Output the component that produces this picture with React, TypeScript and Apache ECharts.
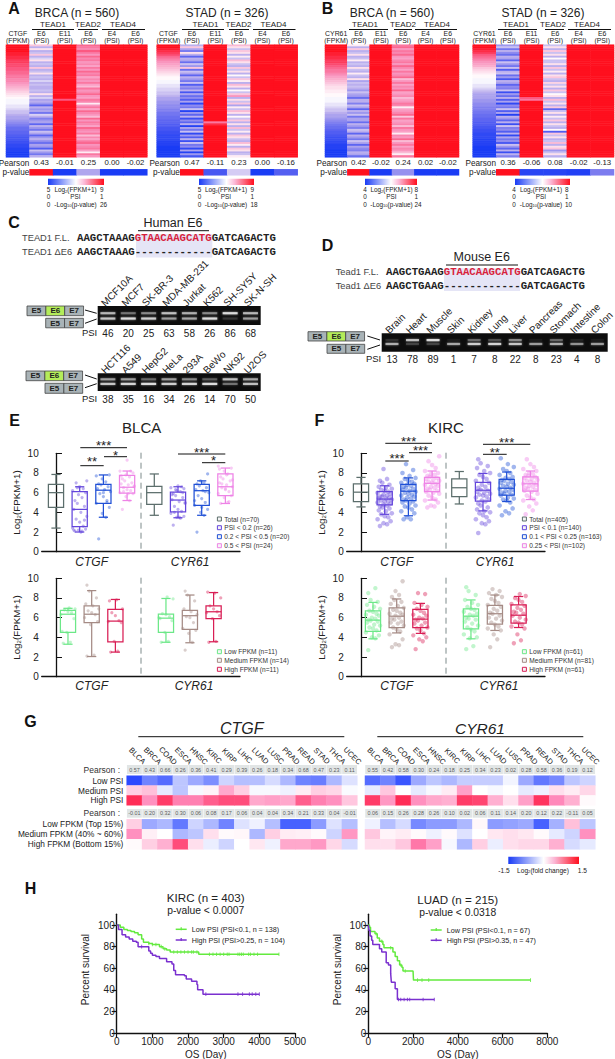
import React, { useEffect, useRef } from "react";
import * as echarts from "echarts";

const FONT = "Liberation Sans";
const MONO = "Liberation Mono";

/* ---------- Panels A / B : heat maps (one base-36 character per row, 0 = low, z = high) ---------- */
const joinRows = (s: string) => s.replace(/ /g, "");
const solidRed = joinRows("zzzzzzzzzz zzzzzzzzzz zzzzzzzzzz zzzzzzzzzz zzzzzzzzzz zzzzzzzzzz");
const a1Gene = joinRows("zzzzyyxxww vvuuttssrr qponmlkjih hhggfeedcc ba98776654 4332211000");
const a1Tead1E6 = joinRows("mdkdemdfkd edmdekdedf deddedkdfc db6dbc8fd9 bc6db8ec6b da7cb5eb8d");
const a1Tead1E11 = joinRows("zzzzzzzzzz zzzzzzzzzz zzzzzzzzzu zzzzzzzzzz zzzzzzzzzz zzzzzzzzzz");
const a1Tead2E6 = joinRows("tsrusqtrsq rpsqtrsprq spnsqrtqps rjqsptrqnt qsrptrqsnr pstqrspjsq");
const a2Gene = joinRows("zzyxwvtsrq ponmlkjiih hggffeedcc bbaa998877 6655443322 2111000000");
const a2Tead1E6 = joinRows("dmc8kd6dc7 ebm7ec6db8 e5b9d4c7a5 c2a8e1b6d3 a6d1c8e2b5 d3e8a2c1b4");
const a2Tead1E11 = joinRows("zzzzzzzzzz zzzzzzzzzz zzzzzzzzzz zzzzzzzzzz zsxzzzzzzz zzzzzzzzzz");
const a2Tead2E6 = joinRows("nkemkdjenk edmekdiemj dnkdiemqdk emcjenkdie mdkdnejdmk ednjdmkdej");
const b1Gene = joinRows("zzzzyyxxww vutssrqpon mlkkjjiihh hggfeedccb a987765543 3221110000");
const b1Tead1E6 = joinRows("jdmdekdejd edkedjedkc ededbecb7d d9ec6dbe8c c7db9ed6db 8ec6ca9dc7");
const b1Tead2E6 = joinRows("stqsrtqprs qtrpsqrtnq sprqtpqrnp qsrjpqrtms pqrnsqpjrq tnqsprqnjs");
const b2Gene = joinRows("zzyxwutsrq pomlkjiihh hggfedcccb baa9988776 6554433222 1111000000");
const b2Tead1E6 = joinRows("be8da7dc6e b8e5de7b4d c6a9e3b7d5 c2a8e5c1db 6d3e9a5d2c 8a4eb6d3d9");
const b2Tead1E11 = joinRows("zzzzzzzzzz zzzzzzzzzz zzzzzzzzus zzzzzzzzzz zzzzzzzzzz zzzzzzzzzz");
const b2Tead2E6 = joinRows("ekdmekdiee kdmejdkmed lekdmeikdn ekdm6ekdje mdkedi5mek dendkmbekd");

const a1Pearson = ["0.43", "-0.01", "0.25", "0.00", "-0.02"];
const a2Pearson = ["0.47", "-0.11", "0.23", "0.00", "-0.16"];
const b1Pearson = ["0.42", "-0.02", "0.24", "0.02", "-0.02"];
const b2Pearson = ["0.36", "-0.06", "0.08", "-0.02", "-0.13"];
const a1PValue = [1, 0, 0.35, 0, 0];
const a2PValue = [1, 0.12, 0.42, 0, 0.15];
const b1PValue = [1, 0, 0.3, 0, 0];
const b2PValue = [1, 0.04, 0.04, 0.02, 0.25];

/* ---------- Panels C / D : gels ---------- */
const gel1Lanes = ["MCF10A", "MCF7", "SK-BR-3", "MDA-MB-231", "Jurkat", "K562", "SH-SY5Y", "SK-N-SH"];
const gel1Psi = [46, 20, 25, 63, 58, 26, 86, 68];
const gel1Upper = [0.75, 0.4, 0.5, 0.8, 0.7, 0.5, 1, 0.75];
const gel1Lower = [0.85, 1, 0.9, 0.6, 0.65, 1, 0.15, 0.6];
const gel2Lanes = ["HCT116", "A549", "HepG2", "HeLa", "293A", "BeWo", "NK92", "U2OS"];
const gel2Psi = [38, 35, 16, 34, 26, 14, 70, 50];
const gel2Upper = [0.6, 0.6, 0.35, 0.6, 0.5, 0.3, 0.8, 0.65];
const gel2Lower = [0.85, 0.95, 1, 0.9, 0.95, 1, 0.4, 0.8];
const gel3Lanes = ["Brain", "Heart", "Muscle", "Skin", "Kidney", "Lung", "Liver", "Pancreas", "Stomach", "Intestine", "Colon"];
const gel3Psi = [13, 78, 89, 1, 7, 8, 22, 8, 23, 4, 8];
const gel3Upper = [0.12, 0.8, 1, 0.05, 0.35, 0.25, 0.5, 0.05, 0.35, 0.08, 0.05];
const gel3Lower = [0.7, 0.2, 0.2, 0.65, 0.9, 0.95, 0.85, 0.6, 0.7, 0.55, 0.6];

/* ---------- Panels E / F : box plots, [min, q1, median, q3, max] ---------- */
const eTopBoxes = [
  [2.4, 4.5, 6.0, 6.85, 7.85], [2.0, 2.55, 4.3, 6.1, 6.6], [3.5, 4.9, 6.25, 6.85, 7.8], [5.2, 5.95, 6.55, 7.75, 8.2],
  [3.7, 4.8, 6.0, 6.65, 7.9], [3.45, 4.05, 5.25, 6.05, 6.6], [3.7, 4.7, 6.2, 6.85, 7.2], [4.9, 5.7, 6.6, 7.9, 8.5],
];
const fTopBoxes = [
  [4.55, 5.1, 6.05, 6.9, 7.55], [3.8, 4.75, 5.35, 6.1, 6.7], [3.65, 5.2, 6.15, 6.85, 7.5], [5.25, 6.1, 6.95, 7.55, 8.2],
  [4.85, 5.6, 6.5, 7.4, 8.15], [4.15, 5.15, 6.25, 7.05, 7.95], [5.1, 5.75, 6.45, 7.35, 8.1], [5.3, 6.15, 6.9, 7.6, 8.2],
];
const eLowBoxes = [
  [3.3, 4.5, 6.35, 6.75, 6.95], [2.05, 5.5, 6.35, 7.2, 8.75], [2.5, 3.55, 5.65, 6.85, 7.85],
  [3.5, 4.5, 5.95, 6.35, 7.95], [3.45, 4.8, 6.2, 6.75, 8.3], [3.55, 5.9, 6.6, 7.2, 8.55],
];
const fLowBoxes = [
  [3.85, 4.6, 5.75, 6.7, 7.55], [4.45, 5.0, 6.15, 7.0, 7.9], [4.4, 5.0, 5.85, 6.85, 7.45],
  [3.85, 4.85, 6.15, 6.9, 7.8], [4.7, 5.35, 6.4, 7.25, 8.3], [5.0, 5.45, 6.25, 7.3, 8.15],
];
const eTopDots = [
  [2.1, 2.1, 2.2, 2.3, 2.4, 2.6, 3.0, 3.3, 3.6, 4.0, 4.3, 4.6, 4.9, 5.2, 5.5, 5.8, 6.0, 6.2, 6.4, 6.6, 7.0, 7.2, 2.0, 2.2, 3.2, 6.5],
  [1.3, 3.5, 3.9, 4.5, 4.9, 5.2, 5.6, 5.9, 6.1, 6.3, 6.4, 6.6, 6.8, 6.9, 7.1, 7.4, 7.8, 7.7, 5.0, 6.0],
  [4.3, 5.2, 5.6, 5.9, 6.0, 6.2, 6.3, 6.5, 6.6, 6.8, 6.9, 7.0, 7.2, 7.4, 7.6, 7.8, 8.0, 8.2, 8.2, 9.3, 6.1, 6.7, 5.9, 7.7],
  [2.7, 3.4, 3.5, 3.6, 3.9, 4.1, 4.3, 4.6, 4.9, 5.1, 5.3, 5.5, 5.7, 5.9, 6.1, 6.2, 6.4, 6.5, 6.6, 6.7, 4.0, 5.0, 3.5, 5.8, 6.0, 6.3],
  [2.0, 3.7, 4.0, 4.3, 4.7, 5.0, 5.4, 5.7, 6.0, 6.2, 6.3, 6.5, 6.7, 6.9, 7.0, 7.2, 7.9, 5.2, 6.1, 4.5],
  [4.9, 5.0, 5.5, 5.7, 5.9, 6.1, 6.3, 6.5, 6.6, 6.8, 7.0, 7.2, 7.4, 7.6, 7.9, 8.2, 8.5, 8.7, 5.1, 6.4, 6.9, 7.3, 7.8, 8.4],
];
const fTopDots = [
  [2.6, 2.8, 2.9, 3.1, 3.3, 3.5, 3.6, 3.8, 3.9, 4.1, 4.2, 4.4, 4.5, 4.6, 4.7, 4.8, 4.9, 5.0, 5.1, 5.1, 5.2, 5.3, 5.4, 5.4, 5.5, 5.6, 5.6, 5.7, 5.8, 5.9, 6.0, 6.1, 6.2, 6.3, 6.4, 6.5, 6.6, 6.8, 7.0, 7.2, 7.4, 8.4],
  [3.3, 3.3, 3.5, 3.9, 4.1, 4.3, 4.5, 4.6, 4.7, 4.9, 5.0, 5.1, 5.2, 5.3, 5.4, 5.5, 5.6, 5.7, 5.8, 5.9, 6.0, 6.1, 6.2, 6.3, 6.4, 6.5, 6.6, 6.7, 6.8, 6.9, 7.0, 7.1, 7.2, 7.4, 7.5, 7.7, 8.0, 8.3, 8.9],
  [4.5, 4.6, 4.7, 5.0, 5.2, 5.3, 5.5, 5.7, 5.9, 6.0, 6.1, 6.2, 6.3, 6.4, 6.5, 6.6, 6.7, 6.8, 6.9, 7.0, 7.1, 7.2, 7.3, 7.4, 7.5, 7.6, 7.7, 7.8, 7.9, 8.0, 8.2, 8.5, 8.8, 9.2, 9.7],
  [1.9, 2.8, 2.9, 3.1, 3.3, 3.5, 3.7, 3.9, 4.0, 4.1, 4.3, 4.5, 4.7, 4.9, 5.1, 5.2, 5.3, 5.5, 5.6, 5.7, 5.8, 5.9, 6.0, 6.1, 6.2, 6.3, 6.5, 6.6, 6.8, 7.0, 7.2, 7.4, 7.6, 7.8, 8.0, 8.2, 8.5, 8.7, 9.0, 9.4],
  [3.7, 3.9, 4.1, 4.4, 4.7, 5.0, 5.2, 5.3, 5.4, 5.5, 5.7, 5.8, 5.9, 6.0, 6.1, 6.2, 6.3, 6.4, 6.5, 6.6, 6.7, 6.8, 6.9, 7.0, 7.1, 7.2, 7.3, 7.4, 7.5, 7.6, 7.8, 8.0, 8.2, 8.4, 8.6, 8.9, 9.5],
  [3.8, 4.2, 4.6, 4.9, 5.2, 5.3, 5.5, 5.7, 5.9, 6.1, 6.2, 6.3, 6.4, 6.5, 6.6, 6.7, 6.8, 6.9, 7.0, 7.1, 7.2, 7.3, 7.4, 7.5, 7.6, 7.7, 7.8, 7.9, 8.0, 8.2, 8.4, 8.6, 8.9, 9.4],
];
const eLowDots = [
  [3.4, 3.5, 4.5, 5.9, 6.3, 6.5, 6.6, 6.8, 6.9, 7.0, 4.6],
  [2.1, 2.2, 5.3, 5.6, 6.0, 6.3, 6.5, 6.7, 6.9, 7.2, 7.4, 8.0, 8.7, 9.3],
  [2.5, 2.6, 3.6, 5.5, 5.6, 5.7, 6.2, 6.5, 6.9, 7.8, 7.7],
  [3.5, 3.6, 4.5, 5.7, 6.0, 6.1, 6.3, 6.4, 7.9, 8.1, 5.9],
  [2.7, 3.5, 4.4, 4.7, 4.9, 5.5, 6.0, 6.1, 6.3, 6.6, 6.9, 7.7, 8.3, 8.7],
  [3.5, 3.6, 5.9, 6.2, 6.5, 6.6, 6.9, 7.2, 8.0, 8.5, 8.6],
];
const fLowDots = [
  [2.7, 3.9, 4.0, 4.2, 4.5, 4.7, 4.9, 5.0, 5.2, 5.3, 5.5, 5.6, 5.7, 5.8, 5.9, 6.0, 6.2, 6.3, 6.4, 6.6, 6.7, 6.9, 7.1, 7.3, 7.6, 7.8, 8.5, 9.0],
  [3.0, 3.2, 3.3, 3.8, 4.3, 4.6, 4.8, 5.0, 5.2, 5.4, 5.5, 5.6, 5.8, 5.9, 6.0, 6.2, 6.3, 6.4, 6.5, 6.7, 6.8, 7.0, 7.2, 7.4, 7.6, 7.8, 8.1, 8.3, 8.7, 9.7],
  [2.8, 3.6, 3.8, 4.0, 4.2, 4.4, 4.7, 4.9, 5.0, 5.2, 5.4, 5.5, 5.7, 5.8, 5.9, 6.0, 6.2, 6.3, 6.5, 6.7, 6.9, 7.1, 7.3, 7.5, 8.4, 8.5],
  [2.8, 3.1, 3.9, 4.0, 4.3, 4.6, 4.8, 5.0, 5.2, 5.4, 5.6, 5.8, 5.9, 6.0, 6.2, 6.3, 6.4, 6.6, 6.8, 6.9, 7.1, 7.3, 7.5, 7.8, 8.3, 8.7, 9.1],
  [3.0, 3.8, 4.3, 4.7, 4.9, 5.1, 5.3, 5.5, 5.7, 5.9, 6.0, 6.2, 6.4, 6.5, 6.7, 6.9, 7.1, 7.3, 7.5, 7.7, 7.9, 8.1, 8.3, 8.5, 8.7, 8.9],
  [3.4, 3.7, 4.3, 4.9, 5.1, 5.3, 5.5, 5.6, 5.8, 6.0, 6.2, 6.4, 6.5, 6.6, 6.8, 7.0, 7.2, 7.4, 7.6, 7.8, 8.0, 8.2, 8.4],
];
const eTopLegend = ["Total (n=70)", "PSI < 0.2 (n=26)", "0.2 < PSI < 0.5 (n=20)", "0.5 < PSI (n=24)"];
const fTopLegend = ["Total (n=405)", "PSI < 0.1 (n=140)", "0.1 < PSI < 0.25 (n=163)", "0.25 < PSI (n=102)"];
const eLowLegend = ["Low FPKM (n=11)", "Medium FPKM (n=14)", "High FPKM (n=11)"];
const fLowLegend = ["Low FPKM (n=61)", "Medium FPKM (n=81)", "High FPKM (n=61)"];

/* ---------- Panel G ---------- */
const cancers = ["BLCA", "BRCA", "COAD", "ESCA", "HNSC", "KIRC", "KIRP", "LIHC", "LUAD", "LUSC", "PRAD", "READ", "STAD", "THCA", "UCEC"];
const psiRowNames = ["Low PSI", "Medium PSI", "High PSI"];
const fpkmRowNames = ["Low FPKM (Top 15%)", "Medium FPKM (40% ~ 60%)", "High FPKM (Bottom 15%)"];
const ctgfPearsonPsi = [0.57, 0.43, 0.66, 0.26, 0.36, 0.41, 0.29, 0.39, 0.26, 0.18, 0.34, 0.68, 0.47, 0.23, 0.11];
const ctgfPearsonFpkm = [-0.01, 0.2, 0.32, 0.3, 0.06, 0.08, 0.17, 0.06, 0.04, 0.04, 0.34, 0.21, 0.33, 0.04, -0.01];
const cyr61PearsonPsi = [0.55, 0.42, 0.58, 0.3, 0.24, 0.18, 0.25, 0.34, 0.23, 0.02, 0.28, 0.58, 0.36, 0.19, 0.12];
const cyr61PearsonFpkm = [0.06, 0.15, 0.26, 0.28, 0.26, 0.1, 0.02, 0.06, 0.11, 0.14, 0.2, 0.12, 0.22, -0.11, 0.05];
const ctgfPsi = [
  [-1.4, -0.9, -1.1, -0.4, -0.6, -0.8, -0.3, -0.45, -0.45, -0.25, -0.5, -0.9, -0.95, -0.5, -0.2],
  [0.3, 0.4, -0.15, -0.4, -0.05, 0.08, 0.55, 0.3, -0.05, -0.05, -0.1, 0.12, 0.3, 0.25, -0.03],
  [1.3, 0.7, 1.2, 0.8, 0.8, 1.0, 1.1, 1.1, 0.55, 0.6, 0.55, 1.0, 0.8, 0.7, 0.35],
];
const ctgfFpkm = [
  [0.3, -0.6, -0.5, -1.0, -0.3, -0.5, -0.9, -0.2, -0.1, -0.45, -1.2, -1.2, -0.7, -0.2, -0.45],
  [0.7, 0.1, 0, -0.5, -0.4, 0.2, 0.03, 0.05, -0.5, 0.3, 0.12, 0.1, 0.03, -0.3, 0.65],
  [0.03, 0.3, 0.5, 1.1, 0.2, -0.12, -0.3, 0, 0.15, -0.1, 0.55, 0.55, 0.65, 0.25, -0.25],
];
const cyr61Psi = [
  [-1.1, -0.9, -1.3, -0.6, -0.4, -0.5, -0.35, -0.35, -0.35, -0.08, -0.6, -1.0, -0.85, -0.4, -0.3],
  [-0.15, 0.35, 0, -0.15, -0.05, 0.12, 0.6, 0, -0.05, 0, -0.15, -0.1, 0.2, 0.12, 0.25],
  [1.2, 0.65, 1.3, 0.7, 0.55, 0.5, 1.2, 1.15, 0.5, 0.2, 0.6, 1.25, 0.75, 0.5, 0.03],
];
const cyr61Fpkm = [
  [-0.1, -0.45, -0.25, -0.85, -0.7, -0.7, -0.5, 0.05, -0.7, -0.65, -0.6, -1.2, -0.55, 0.4, -0.4],
  [0.35, 0.07, 0.12, 0.03, -0.1, 0.03, -0.2, 0, 0.15, 0.2, 0.15, 0.03, -0.15, -0.3, 0.7],
  [0.2, 0.2, 0.35, 0.85, 0.6, -0.05, -0.5, 0.3, -0.12, 0.2, 0.25, 0.25, 0.5, -0.25, -0.15],
];

/* ---------- Panel H : Kaplan-Meier steps [day, % survival], censor days ---------- */
const kircLow = [[0, 100], [100, 98], [200, 96], [300, 95], [400, 94], [500, 93], [600, 91], [700, 87], [750, 84], [900, 83], [1000, 82], [1200, 80], [1300, 78], [1400, 77], [1500, 75], [2250, 75], [2300, 73], [4550, 73]];
const kircHigh = [[0, 100], [50, 96], [150, 91], [250, 89], [350, 87], [450, 85], [550, 84], [600, 80], [850, 80], [900, 76], [950, 74], [1000, 72], [1100, 71], [1200, 69], [1400, 66], [1550, 64], [1600, 58], [1650, 54], [1900, 53], [1950, 50], [2100, 48], [2250, 45], [2270, 40], [2400, 40], [2420, 36], [4000, 36]];
const luadLow = [[0, 100], [50, 98], [100, 94], [300, 92], [400, 88], [500, 85], [650, 82], [700, 79], [1050, 79], [1100, 75], [1200, 71], [1300, 67], [1400, 63], [1500, 61], [1550, 57.5], [2000, 57.5], [2020, 49], [7250, 49]];
const luadHigh = [[0, 100], [30, 95], [80, 90], [150, 86], [200, 82], [450, 82], [500, 78], [600, 75], [750, 75], [800, 65], [900, 63], [1000, 55], [1030, 47], [1150, 47], [1200, 41], [1300, 31], [2950, 31]];
const kircLowCensor = [900, 1000, 1100, 1250, 1350, 1600, 1700, 1800, 1900, 2000, 2100, 2150, 2250, 2600, 2700, 2800, 2900, 3000, 3100, 3150, 3400, 3450, 3500, 3550, 3700, 3750, 3850, 3950, 4550];
const kircHighCensor = [700, 2500, 3400, 3530, 3720, 3800, 3900, 4000];
const luadLowCensor = [350, 600, 1000, 1450, 1650, 2200, 2400, 2700, 7250];
const luadHighCensor = [1350, 1450, 1600, 1750, 1850, 2450, 2950];

/* ---------- styling ---------- */
const heatColors = ["#1a3cf5", "#4a58f2", "#7c7cef", "#bdb0ee", "#ffffff", "#fbc8de", "#f992bc", "#fb4f78", "#ff0f1e"];
const foldColors = ["#1f3fff", "#8494ff", "#ffffff", "#ff88ba", "#ff0a32"];
const barStops = [
  [0, "#1a3cf5"], [0.35, "#b8c2fb"], [0.5, "#ffffff"], [0.65, "#fbb8d6"], [1, "#ff0f1e"],
];
const topColors = ["#5c6e6c", "#6446dc", "#2050d6", "#ee83e6"];
const lowColors = ["#6ce888", "#a58b85", "#d91e55"];
const jitter = [-0.2, 0.1, -0.05, 0.25, -0.3, 0.15, 0, -0.15, 0.3, 0.05, -0.25, 0.2, -0.1];
const topSlots = [0, 1, 2, 3, 4.148, 5.148, 6.148, 7.148];
const lowSlots = [0.506, 1.506, 2.506, 4.64, 5.65, 6.65];
const slotMin = -0.603;
const slotMax = 7.764;
const GREEN = "#63ea3e";
const PURPLE = "#7a30cf";

function buildOption() {
  const grid: any[] = [];
  const xAxis: any[] = [];
  const yAxis: any[] = [];
  const series: any[] = [];
  const graphic: any[] = [];
  const heatIdx: number[] = [];
  const foldIdx: number[] = [];

  const addGrid = (left: number, top: number, right: number, bottom: number, extra: any = {}) => {
    grid.push({ left, top, width: right - left, height: bottom - top, show: false, outerBoundsMode: "none", ...extra });
    return grid.length - 1;
  };
  const hiddenVal = (gridIndex: number, min: number, max: number, axisList: any[]) => {
    axisList.push({ type: "value", gridIndex, min, max, show: false });
    return axisList.length - 1;
  };
  const catAxis = (gridIndex: number, data: any[], o: any = {}) => ({
    type: "category", gridIndex, data, axisLine: { show: false }, axisTick: { show: false }, splitLine: { show: false },
    ...o,
  });
  const text = (x: number, y: number, str: string, o: any = {}) => {
    const { rotation, ...style } = o;
    graphic.push({
      type: "text", x, y, rotation: rotation || 0, silent: true,
      style: {
        text: str, fontFamily: FONT, fontSize: 8, fill: "#222", textAlign: "center", textVerticalAlign: "middle", ...style,
      },
    });
  };
  const line = (x1: number, y1: number, x2: number, y2: number, o: any = {}) => {
    graphic.push({ type: "line", silent: true, shape: { x1, y1, x2, y2 }, style: { stroke: "#111", lineWidth: 1, ...o } });
  };
  const rect = (x: number, y: number, width: number, height: number, style: any) => {
    graphic.push({ type: "rect", silent: true, shape: { x, y, width, height }, style });
  };
  const subRich = (size: number) => ({
    sub: { fontFamily: FONT, fontSize: size, verticalAlign: "bottom", fill: "#222", padding: [3, 0, 0, 0] },
  });

  /* ---- A / B ---- */
  const colorBar = (x1: number, x2: number, y: number, fpkmLo: string, fpkmHi: string, pHi: string, numL: number, lblC: number, numR: number) => {
    rect(x1, y, x2 - x1, 6.3, {
      fill: new echarts.graphic.LinearGradient(0, 0, 1, 0, barStops.map(([offset, color]) => ({ offset, color }))),
    });
    const rows = [
      [fpkmLo, "Log{sub|2}(FPKM+1)", fpkmHi, 189.5],
      ["0", "PSI", "1", 196.7],
      ["0", "-Log{sub|10}(p-value)", pHi, 204],
    ] as any[];
    rows.forEach(([a, b, c, y2]) => {
      text(numL, y2, a, { fontSize: 6.4 });
      text(lblC, y2, b, { fontSize: 6.4, rich: subRich(4) });
      text(numR, y2, c, { fontSize: 6.4, textAlign: "left" });
    });
  };
  const heatPanel = (left: number, right: number, geneName: string, geneStr: string, cols: string[], pearson: string[], pv: number[]) => {
    const g = addGrid(left, 44.7, right, 157.3);
    const rows = Array.from({ length: geneStr.length }, (_, i) => i);
    xAxis.push(catAxis(g, [`${geneName}\n(FPKM)`, "E6\n(PSI)", "E11\n(PSI)", "E6\n(PSI)", "E4\n(PSI)", "E6\n(PSI)"], {
      position: "top",
      axisLabel: { interval: 0, fontSize: 6.9, lineHeight: 7, margin: 0.5, color: "#222", fontFamily: FONT },
    }));
    yAxis.push(catAxis(g, rows, { inverse: true, axisLabel: { show: false } }));
    const data: any[] = [];
    [geneStr, ...cols].forEach((s, c) => {
      s.split("").forEach((ch, r) => data.push([c, r, parseInt(ch, 36) / 35]));
    });
    series.push({ type: "heatmap", xAxisIndex: xAxis.length - 1, yAxisIndex: yAxis.length - 1, data, silent: true, progressive: 0 });
    heatIdx.push(series.length - 1);

    const colW = (right - left) / 6;
    const s = addGrid(left + colW, 169.3, right, 175.3);
    xAxis.push(catAxis(s, pearson, {
      position: "top",
      axisLabel: { interval: 0, fontSize: 7.8, margin: 2.5, color: "#222", fontFamily: FONT },
    }));
    yAxis.push(catAxis(s, ["p"], { axisLabel: { show: false } }));
    series.push({ type: "heatmap", xAxisIndex: xAxis.length - 1, yAxisIndex: yAxis.length - 1, data: pv.map((v, i) => [i, 0, v]), silent: true });
    heatIdx.push(series.length - 1);
    text(left + colW - 0.3, 163, "Pearson", { textAlign: "right", fontSize: 8.2 });
    text(left + colW - 0.3, 172, "p-value", { textAlign: "right", fontSize: 8.2 });
  };
  const headTead = (c1: number, l1: number[], c2: number, l2: number[], c3: number, l3: number[]) => {
    [[c1, l1, "TEAD1"], [c2, l2, "TEAD2"], [c3, l3, "TEAD4"]].forEach(([c, l, n]: any) => {
      text(c, 24.7, n, { fontSize: 8 });
      line(l[0], 29.5, l[1], 29.5, { lineWidth: 1 });
    });
  };

  text(14, 8, "A", { fontSize: 16, fontWeight: "bold", fill: "#111" });
  text(327.5, 8, "B", { fontSize: 16, fontWeight: "bold", fill: "#111" });

  text(77, 13, "BRCA (n = 560)", { fontSize: 12 });
  headTead(53, [32, 74], 88, [78, 98], 123, [102, 145]);
  heatPanel(6, 147.3, "CTGF", a1Gene, [a1Tead1E6, a1Tead1E11, a1Tead2E6, solidRed, solidRed], a1Pearson, a1PValue);
  colorBar(48, 104, 178.7, "5", "9", "26", 48.5, 75.5, 100);

  text(227, 13, "STAD (n = 326)", { fontSize: 12 });
  headTead(205.5, [182, 224], 238.5, [229, 249], 273.5, [253, 295.5]);
  heatPanel(156.7, 297.7, "CTGF", a2Gene, [a2Tead1E6, a2Tead1E11, a2Tead2E6, solidRed, solidRed], a2Pearson, a2PValue);
  colorBar(199, 254, 178.7, "5", "9", "18", 199.5, 226, 250.5);

  text(392, 13, "BRCA (n = 560)", { fontSize: 12 });
  headTead(365, [349, 388], 403, [394, 412], 437, [415, 457]);
  heatPanel(325, 459, "CYR61", b1Gene, [b1Tead1E6, solidRed, b1Tead2E6, solidRed, solidRed], b1Pearson, b1PValue);
  colorBar(365, 417, 178.7, "4", "8", "24", 365, 391.5, 414.5);

  text(543, 13, "STAD (n = 326)", { fontSize: 12 });
  headTead(516, [498, 537], 553, [545, 564], 587, [568, 611]);
  heatPanel(472.7, 614, "CYR61", b2Gene, [b2Tead1E6, b2Tead1E11, b2Tead2E6, solidRed, solidRed], b2Pearson, b2PValue);
  colorBar(515, 570, 178.7, "4", "8", "10", 514, 541, 565);

  /* ---- C / D ---- */
  const seqBlock = (labelX: number, seqX: number, y1: number, y2: number, n1: string, n2: string, a: string, b: string, hl: number[]) => {
    rect(hl[0], hl[1], hl[2] - hl[0], hl[3] - hl[1], { fill: "#e5e5f6" });
    text(labelX, y1, n1, { textAlign: "left", fontSize: 9.3, fill: "#444" });
    text(labelX, y2, n2, { textAlign: "left", fontSize: 9.3, fill: "#444" });
    const seq = { fontFamily: MONO, fontSize: 10.7, fontWeight: "bold", fill: "#222", textAlign: "left" };
    text(seqX, y1, `${a}{r|GTAACAAGCATG}${b}`, {
      ...seq,
      rich: { r: { fontFamily: MONO, fontSize: 10.7, fontWeight: "bold", fill: "#d81f3c" } },
    });
    text(seqX, y2, `${a}------------${b}`, seq);
  };
  const exonRow = (x: number, y: number, h: number, names: string[]) => {
    const w = 18.85;
    names.forEach((n, i) => {
      rect(x + i * w, y, w, h, { fill: n === "E6" ? "#b4ec5a" : "#a9b3b7", stroke: "#444", lineWidth: 0.8 });
      text(x + i * w + w / 2, y + h / 2, n, { fontSize: 8, fontWeight: "bold", fill: "#222" });
    });
  };
  const gel = (left: number, top: number, right: number, bottom: number, lanes: string[], psi: number[], up: number[], low: number[], upY: number, lowY: number, bandW: number) => {
    const g = addGrid(left, top, right, bottom, { show: true, backgroundColor: "#0d0d0d", borderWidth: 0 });
    xAxis.push(catAxis(g, psi.map(String), {
      position: "bottom",
      axisLabel: { interval: 0, fontSize: 10, margin: 3, color: "#222", fontFamily: FONT },
    }));
    const xi = xAxis.length - 1;
    const yi = hiddenVal(g, 0, 1, yAxis);
    const band = (vals: number[], y: number) => ({
      type: "scatter", xAxisIndex: xi, yAxisIndex: yi, silent: true, symbol: "rect", symbolSize: [bandW, 2.2],
      data: vals.map((v, i) => ({ value: [i, y], itemStyle: { opacity: v * 0.9 } })),
      itemStyle: { color: "#e8e8e8", shadowBlur: 2, shadowColor: "#aaaaaa" },
    });
    series.push(band(up, upY), band(low, lowY));
    const n = addGrid(left - 5, top, right - 5, bottom);
    xAxis.push(catAxis(n, lanes, {
      position: "top",
      axisLabel: { interval: 0, rotate: 45, fontSize: 10, margin: 1.5, color: "#222", fontFamily: FONT },
    }));
    hiddenVal(n, 0, 1, yAxis);
    text(left - 0.5, bottom + 7, "PSI", { textAlign: "right", fontSize: 9.5 });
  };

  text(14, 222, "C", { fontSize: 16, fontWeight: "bold", fill: "#111" });
  text(173, 223, "Human E6", { fontSize: 12.5 });
  line(138, 230.7, 209, 230.7);
  seqBlock(22, 77, 238, 252, "TEAD1 F.L.", "TEAD1 ΔE6", "AAGCTAAAG", "GATCAGACTG", [136, 234, 212.3, 257.5]);
  gel(97.7, 306, 260.7, 325, gel1Lanes, gel1Psi, gel1Upper, gel1Lower, 0.62, 0.34, 15);
  exonRow(27, 306, 9.7, ["E5", "E6", "E7"]);
  exonRow(45.7, 318.3, 9.5, ["E5", "E7"]);
  line(85, 310, 96.7, 313.3);
  line(85, 323.3, 96.7, 319);
  gel(97.7, 373.3, 260.7, 391, gel2Lanes, gel2Psi, gel2Upper, gel2Lower, 0.66, 0.4, 15);
  exonRow(26, 371, 9.7, ["E5", "E6", "E7"]);
  exonRow(45, 383.3, 10, ["E5", "E7"]);
  line(85, 375, 96.7, 379);
  line(85, 387.7, 96.7, 383.7);

  text(327.5, 245.7, "D", { fontSize: 16, fontWeight: "bold", fill: "#111" });
  text(481.7, 257.3, "Mouse E6", { fontSize: 12.5 });
  line(446, 265, 518, 265);
  seqBlock(335.7, 386, 272.3, 286, "Tead1 F.L.", "Tead1 ΔE6", "AAGCTGAAG", "GATCAGACTG", [444, 268.3, 520, 291]);
  gel(381.7, 333.3, 607.7, 351.7, gel3Lanes, gel3Psi, gel3Upper, gel3Lower, 0.63, 0.42, 13);
  exonRow(308, 331.7, 9.3, ["E5", "E6", "E7"]);
  exonRow(327, 344.3, 9, ["E5", "E7"]);
  line(367.3, 336, 380, 340);
  line(367.3, 349.3, 380, 345);

  /* ---- E / F ---- */
  const slotFor = (slots: number[], k: number) => {
    if (slots === topSlots) return slots[k < 3 ? k + 1 : k + 2];
    return slots[k];
  };
  const boxGrid = (dx: number, top: number, bottom: number, boxes: number[][], slots: number[], colors: string[], dots: number[][], dotSize: number) => {
    const left = 41.7 + dx;
    const right = 240 + dx;
    const g = addGrid(left, top, right, bottom);
    xAxis.push({
      type: "value", gridIndex: g, min: slotMin, max: slotMax, axisLabel: { show: false }, axisTick: { show: false }, splitLine: { show: false },
      axisLine: { show: true, onZero: false, lineStyle: { color: "#111", width: 1.3 } },
    });
    yAxis.push({
      type: "value", gridIndex: g, min: 0, max: 10, interval: 2, splitLine: { show: false },
      axisLine: { show: true, lineStyle: { color: "#111", width: 1.3 } },
      axisTick: { show: true, inside: true, length: 6, lineStyle: { color: "#111", width: 1 } },
      axisLabel: { fontSize: 10, margin: 3, color: "#222", fontFamily: FONT },
      name: "Log{sub|2}(FPKM+1)", nameLocation: "middle", nameRotate: 90, nameGap: 20,
      nameTextStyle: {
        fontSize: 9.8, color: "#222", fontFamily: FONT,
        rich: { sub: { fontSize: 6, fontFamily: FONT, color: "#222", verticalAlign: "bottom", padding: [4, 0, 0, 0] } },
      },
    });
    const xi = xAxis.length - 1;
    const yi = yAxis.length - 1;
    dots.forEach((ys, k) => {
      const colorIdx = slots === topSlots ? (k % 3) + 1 : k % 3;
      series.push({
        type: "scatter", xAxisIndex: xi, yAxisIndex: yi, silent: true, symbolSize: dotSize,
        itemStyle: { color: colors[colorIdx], opacity: 0.42 },
        data: ys.map((y, i) => [slotFor(slots, k) + jitter[i % jitter.length], y]),
      });
    });
    const boxData = boxes.map((b, i) => [slots[i], ...b, i]);
    series.push({
      type: "custom", xAxisIndex: xi, yAxisIndex: yi, silent: true, clip: false,
      encode: { x: 0, y: [1, 2, 3, 4, 5] },
      data: boxData,
      renderItem: (_: any, api: any) => {
        const sx = api.value(0);
        const p = (v: number) => api.coord([sx, api.value(v)]);
        const [px, yMin] = p(1);
        const yQ1 = p(2)[1];
        const yMed = p(3)[1];
        const yQ3 = p(4)[1];
        const yMax = p(5)[1];
        const i = api.value(6);
        const color = slots === topSlots ? colors[i % 4] : colors[i % 3];
        const s = { stroke: color, lineWidth: 1.25, fill: "none" };
        const hb = 7.6;
        const hc = 4.6;
        const ln = (x1: number, y1: number, x2: number, y2: number) => ({ type: "line", shape: { x1, y1, x2, y2 }, style: s });
        return {
          type: "group",
          children: [
            ln(px, yMin, px, yQ1), ln(px, yQ3, px, yMax), ln(px - hc, yMin, px + hc, yMin), ln(px - hc, yMax, px + hc, yMax),
            { type: "rect", shape: { x: px - hb, y: yQ3, width: 2 * hb, height: yQ1 - yQ3 }, style: s },
            ln(px - hb, yMed, px + hb, yMed),
          ],
        };
      },
    });
    line(141 + dx, top - 0.6, 141 + dx, bottom, { stroke: "#7d8a8a", lineWidth: 1, lineDash: [6, 4] });
  };
  const boxLegend = (dx: number, ys: number[], names: string[], colors: string[]) => {
    names.forEach((n, i) => {
      rect(217.4 + dx, ys[i] - 2, 4, 4, { fill: "#f4f4f4", stroke: colors[i], lineWidth: 1 });
      text(224.3 + dx, ys[i], n, { textAlign: "left", fontSize: 6.6, fill: "#333" });
    });
  };
  const geneLabels = (dx: number, y: number, c2: number) => {
    text(91.7 + dx, y, "CTGF", { fontSize: 12, fontStyle: "italic" });
    text(c2 + dx, y, "CYR61", { fontSize: 12, fontStyle: "italic" });
  };
  const sig = (x1: number, x2: number, y: number, stars: string, sy: number) => {
    line(x1, y, x2, y, { lineWidth: 1 });
    text((x1 + x2) / 2, sy + 2.6, stars, { fontSize: 13, fill: "#222" });
  };

  text(14.5, 420, "E", { fontSize: 16, fontWeight: "bold", fill: "#111" });
  text(141.7, 427.5, "BLCA", { fontSize: 15 });
  boxGrid(0, 453.3, 551.7, eTopBoxes, topSlots, topColors, eTopDots, 3.2);
  geneLabels(0, 561.5, 190);
  boxLegend(0, [519, 527.7, 536.7, 545.7], eTopLegend, topColors);
  sig(80.3, 127, 447.7, "***", 443.3);
  sig(104, 127, 456.7, "*", 452.7);
  sig(80.3, 103.7, 465.7, "**", 459);
  sig(178, 225.3, 454, "***", 449.7);
  sig(202, 225.3, 462.7, "*", 458.3);
  boxGrid(0, 578.3, 676.7, eLowBoxes, lowSlots, [...lowColors], eLowDots, 3.2);
  geneLabels(0, 686, 194);
  boxLegend(0, [651.7, 660.3, 669.3], eLowLegend, lowColors);

  text(319.5, 420, "F", { fontSize: 16, fontWeight: "bold", fill: "#111" });
  text(446, 427, "KIRC", { fontSize: 15 });
  boxGrid(305, 453.3, 551.7, fTopBoxes, topSlots, topColors, fTopDots, 4.6);
  geneLabels(305, 561.5, 190);
  boxLegend(305, [519, 527.7, 536.7, 545.7], fTopLegend, topColors);
  sig(385.3, 432, 443.3, "***", 439);
  sig(409, 432, 452.7, "***", 447.7);
  sig(385.3, 408.7, 461, "***", 455.7);
  sig(483, 530.3, 444.3, "***", 440);
  sig(483, 506.7, 454.3, "**", 450);
  boxGrid(305, 578.3, 676.7, fLowBoxes, lowSlots, [...lowColors], fLowDots, 4.4);
  geneLabels(305, 686, 194);
  boxLegend(305, [651.7, 660.3, 669.3], fLowLegend, lowColors);

  /* ---- G ---- */
  const cellRows = (left: number, right: number, top: number, bottom: number, names: string[], rows: number[][], showNames: boolean) => {
    const g = addGrid(left, top, right, bottom);
    xAxis.push(catAxis(g, cancers, { axisLabel: { show: false } }));
    yAxis.push(catAxis(g, names, {
      inverse: true,
      axisLabel: { show: showNames, interval: 0, fontSize: 8.3, margin: 3.4, color: "#222", fontFamily: FONT },
    }));
    const data: any[] = [];
    rows.forEach((r, j) => r.forEach((v, i) => data.push([i, j, v])));
    series.push({ type: "heatmap", xAxisIndex: xAxis.length - 1, yAxisIndex: yAxis.length - 1, data, silent: true });
    foldIdx.push(series.length - 1);
  };
  const pearsonStrip = (left: number, right: number, top: number, bottom: number, vals: number[], showName: boolean, showCancers: boolean) => {
    const g = addGrid(left, top, right, bottom);
    xAxis.push(catAxis(g, cancers, {
      position: "top",
      axisLabel: showCancers
        ? { interval: 0, rotate: 45, fontSize: 7.6, margin: 12, align: "center", verticalAlign: "middle", padding: [0, 0, 0, 8], color: "#222", fontFamily: FONT }
        : { show: false },
    }));
    yAxis.push(catAxis(g, ["Pearson :"], {
      axisLabel: { show: showName, fontSize: 8.5, margin: 6.7, color: "#333", fontFamily: FONT },
    }));
    series.push({
      type: "scatter", xAxisIndex: xAxis.length - 1, yAxisIndex: yAxis.length - 1, silent: true, symbol: "rect",
      symbolSize: [(right - left) / 15 - 0.5, bottom - top], itemStyle: { color: "#d9dfdf" },
      label: {
        show: true, position: "inside", fontSize: 5.4, color: "#333", fontFamily: FONT,
        formatter: (p: any) => Number(p.value[2]).toFixed(2),
      },
      data: vals.map((v, i) => [i, 0, v]),
    });
  };
  const geneBlock = (left: number, right: number, p1: number[], psi: number[][], p2: number[], fpkm: number[][], first: boolean) => {
    pearsonStrip(left, right, 765, 774, p1, first, true);
    cellRows(left, right, 775.7, 805.3, psiRowNames, psi, first);
    pearsonStrip(left, right, 809, 817.7, p2, first, false);
    cellRows(left, right, 819.3, 849.3, fpkmRowNames, fpkm, first);
  };
  text(30.5, 721.7, "G", { fontSize: 16, fontWeight: "bold", fill: "#111" });
  text(241.7, 728, "CTGF", { fontSize: 16, fontStyle: "italic" });
  line(138.3, 736.7, 344.3, 736.7);
  text(480, 728, "CYR61", { fontSize: 15.5, fontStyle: "italic" });
  line(377.3, 736.7, 583.3, 736.7);
  geneBlock(126.7, 357.3, ctgfPearsonPsi, ctgfPsi, ctgfPearsonFpkm, ctgfFpkm, true);
  geneBlock(365, 595.3, cyr61PearsonPsi, cyr61Psi, cyr61PearsonFpkm, cyr61Fpkm, false);
  rect(508.3, 856.7, 70.7, 7.3, {
    fill: new echarts.graphic.LinearGradient(0, 0, 1, 0, barStops.map(([offset, color]) => ({ offset, color }))),
  });
  text(504, 870, "-1.5", { fontSize: 6.6 });
  text(543, 870, "Log{sub|2}(fold change)", { fontSize: 6.6, rich: subRich(4.2) });
  text(582.3, 870, "1.5", { fontSize: 6.6 });

  /* ---- H ---- */
  const surv = (curve: number[][], day: number) => {
    let y = curve[0][1];
    curve.forEach(([d, v]) => { if (d <= day) y = v; });
    return y;
  };
  const survival = (left: number, right: number, maxX: number, stepX: number, low: number[][], high: number[][], lowC: number[], highC: number[]) => {
    const g = addGrid(left, 914.3, right, 1033);
    xAxis.push({
      type: "value", gridIndex: g, min: 0, max: maxX, interval: stepX, splitLine: { show: false },
      axisLine: { show: true, onZero: false, lineStyle: { color: "#111", width: 1.4 } },
      axisTick: { show: true, length: 5, lineStyle: { color: "#111", width: 1.2 } },
      axisLabel: { fontSize: 10, margin: 3, color: "#222", fontFamily: FONT, formatter: (v: number) => String(v) },
      name: "OS (Day)", nameLocation: "middle", nameGap: 16, nameTextStyle: { fontSize: 10, color: "#222", fontFamily: FONT },
    });
    yAxis.push({
      type: "value", gridIndex: g, min: 0, max: 110, splitLine: { show: false },
      axisLine: { show: true, lineStyle: { color: "#111", width: 1.4 } },
      axisTick: { show: true, length: 5, customValues: [0, 20, 40, 60, 80, 100], lineStyle: { color: "#111", width: 1.2 } },
      axisLabel: { fontSize: 10, margin: 2, color: "#222", customValues: [0, 20, 40, 60, 80, 100], fontFamily: FONT },
      name: "Percent survival", nameLocation: "middle", nameRotate: 90, nameGap: 26,
      nameTextStyle: { fontSize: 10, color: "#222", fontFamily: FONT, padding: [0, 0, 0, 8] },
    });
    const xi = xAxis.length - 1;
    const yi = yAxis.length - 1;
    [[low, lowC, GREEN], [high, highC, PURPLE]].forEach(([curve, cen, color]: any) => {
      series.push({
        type: "line", xAxisIndex: xi, yAxisIndex: yi, silent: true, step: "end", showSymbol: false,
        lineStyle: { color, width: 1.5 }, data: curve,
      });
      series.push({
        type: "scatter", xAxisIndex: xi, yAxisIndex: yi, silent: true, symbol: "rect", symbolSize: [1, 3.6],
        itemStyle: { color }, data: cen.map((d: number) => [d, surv(curve, d)]),
      });
    });
  };
  const survLegend = (x: number, y1: number, y2: number, a: string, b: string) => {
    [[y1, GREEN, a], [y2, PURPLE, b]].forEach(([y, color, s]: any) => {
      line(x, y, x + 11, y, { stroke: color, lineWidth: 1.5 });
      line(x + 5.5, y - 2, x + 5.5, y + 1, { stroke: color, lineWidth: 1.2 });
      text(x + 16, y, s, { textAlign: "left", fontSize: 7.2, fill: "#222" });
    });
  };
  text(30.5, 888.5, "H", { fontSize: 16, fontWeight: "bold", fill: "#111" });
  text(205.7, 897.7, "KIRC (n = 403)", { fontSize: 11.6 });
  text(205.7, 910.7, "p-value < 0.0007", { fontSize: 10.3 });
  survival(116.7, 295, 5000, 1000, kircLow, kircHigh, kircLowCensor, kircHighCensor);
  survLegend(175.7, 929.3, 940, "Low PSI (PSI<0.1, n = 138)", "High PSI (PSI>0.25, n = 104)");
  text(457.7, 899.3, "LUAD (n = 215)", { fontSize: 11.6 });
  text(457.7, 912.3, "p-value < 0.0318", { fontSize: 10.3 });
  survival(368.3, 547.3, 8000, 2000, luadLow, luadHigh, luadLowCensor, luadHighCensor);
  survLegend(430.7, 930, 940.3, "Low PSI (PSI<0.1, n = 67)", "High PSI (PSI>0.35, n = 47)");

  return {
    animation: false,
    backgroundColor: "#ffffff",
    textStyle: { fontFamily: FONT },
    grid, xAxis, yAxis, series, graphic: { elements: graphic },
    visualMap: [
      { type: "continuous", show: false, min: 0, max: 1, dimension: 2, seriesIndex: heatIdx, inRange: { color: heatColors } },
      { type: "continuous", show: false, min: -1.5, max: 1.5, dimension: 2, seriesIndex: foldIdx, inRange: { color: foldColors } },
    ],
  };
}

export default function App() {
  const ref = useRef<HTMLDivElement>(null);
  useEffect(() => {
    document.body.style.margin = "0";
    const chart = echarts.init(ref.current!, undefined, { renderer: "svg" });
    chart.setOption(buildOption() as any);
    return () => chart.dispose();
  }, []);
  return <div ref={ref} style={{ width: 615, height: 1059 }} />;
}
